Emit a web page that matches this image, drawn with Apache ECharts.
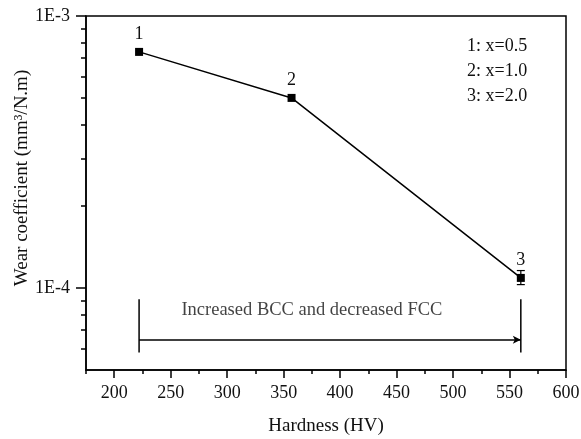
<!DOCTYPE html>
<html>
<head>
<meta charset="utf-8">
<script src="https://cdn.jsdelivr.net/npm/echarts@6/dist/echarts.min.js"></script>
<style>
  html, body { margin: 0; padding: 0; background: #fff; }
  #chart { width: 581px; height: 439px; }
</style>
</head>
<body>
<div id="chart"></div>
<script>
// data
var hardness = [222, 357, 560];
var wear = [7.38e-4, 5.0e-4, 1.09e-4];
var pointNames = ['1', '2', '3'];
var errBars = [[560, 1.03e-4, 1.16e-4]];   // [x, low, high]
var compositions = ['1: x=0.5', '2: x=1.0', '3: x=2.0'];

var xMajorTicks = [200, 250, 300, 350, 400, 450, 500, 550, 600];
var xMinorTicks = [175, 225, 275, 325, 375, 425, 475, 525, 575];
var yMajorTicks = [1e-4, 1e-3];
var yMajorLabels = ['1E-4', '1E-3'];
var yMinorTicks = [6e-5, 7e-5, 8e-5, 9e-5, 2e-4, 3e-4, 4e-4, 5e-4, 6e-4, 7e-4, 8e-4, 9e-4];

// annotation bracket
var bracketLeft = [[222, 9.1e-5], [222, 5.8e-5]];
var bracketRight = [[560, 9.1e-5], [560, 5.8e-5]];
var arrowFrom = [222, 6.46e-5];
var arrowTo = [560, 6.46e-5];
var noteText = 'Increased BCC and decreased FCC';
var notePos = [375, 8.3e-5];

var font = 'Liberation Serif';
var ink = '#111';

var chart = echarts.init(document.getElementById('chart'));

var baseX = { type: 'value', min: 175, max: 600, position: 'bottom', splitLine: { show: false } };
var baseY = { type: 'log', logBase: 10, min: 5e-5, max: 1e-3, position: 'left', splitLine: { show: false } };

option = {
    animation: false,
    grid: {
        left: 86, top: 16, right: 15, bottom: 69,
        outerBoundsMode: 'none',
        show: true, borderColor: '#000', borderWidth: 1.5
    },
    xAxis: [
        Object.assign({}, baseX, {
            name: 'Hardness (HV)',
            nameLocation: 'middle',
            nameGap: 47,
            nameTextStyle: { fontFamily: font, fontSize: 19, color: ink },
            axisLine: { lineStyle: { color: '#000', width: 1.5 } },
            axisTick: { customValues: xMajorTicks, length: 8, lineStyle: { color: '#000', width: 1.5 } },
            axisLabel: { customValues: xMajorTicks, fontFamily: font, fontSize: 18, color: ink, margin: 14 }
        }),
        Object.assign({}, baseX, {
            axisLine: { show: false },
            axisTick: { customValues: xMinorTicks, length: 4, lineStyle: { color: '#000', width: 1.5 } },
            axisLabel: { show: false }
        })
    ],
    yAxis: [
        Object.assign({}, baseY, {
            axisLine: { lineStyle: { color: '#000', width: 1.5 } },
            axisTick: { customValues: yMajorTicks, length: 10, lineStyle: { color: '#000', width: 1.5 } },
            axisLabel: {
                customValues: yMajorTicks, fontFamily: font, fontSize: 18, color: ink, margin: 16,
                formatter: function (v, i) { return yMajorLabels[yMajorTicks.indexOf(v)] || yMajorLabels[i]; }
            }
        }),
        Object.assign({}, baseY, {
            axisLine: { show: false },
            axisTick: { customValues: yMinorTicks, length: 5, lineStyle: { color: '#000', width: 1.5 } },
            axisLabel: { show: false }
        })
    ],
    series: [
        {
            type: 'line',
            data: hardness.map(function (x, i) { return [x, wear[i]]; }),
            symbol: 'rect',
            symbolSize: 8,
            lineStyle: { color: '#000', width: 1.5 },
            itemStyle: { color: '#000' },
            label: {
                show: true, position: 'top', distance: 5,
                fontFamily: font, fontSize: 18, color: ink,
                formatter: function (p) { return pointNames[p.dataIndex]; }
            },
            z: 3
        },
        {
            type: 'custom',
            data: errBars,
            renderItem: function (params, api) {
                var x = api.value(0);
                var lo = api.coord([x, api.value(1)]);
                var hi = api.coord([x, api.value(2)]);
                var s = { stroke: '#000', lineWidth: 1.2 };
                return {
                    type: 'group',
                    children: [
                        { type: 'line', shape: { x1: lo[0], y1: lo[1], x2: hi[0], y2: hi[1] }, style: s },
                        { type: 'line', shape: { x1: lo[0] - 4, y1: lo[1], x2: lo[0] + 4, y2: lo[1] }, style: s },
                        { type: 'line', shape: { x1: hi[0] - 4, y1: hi[1], x2: hi[0] + 4, y2: hi[1] }, style: s }
                    ]
                };
            },
            z: 2
        },
        {
            type: 'line',
            data: bracketLeft,
            symbol: 'none',
            lineStyle: { color: '#000', width: 1.5 },
            markLine: {
                silent: true,
                symbol: ['none', 'arrow'],
                symbolSize: [6, 8],
                label: { show: false },
                lineStyle: { color: '#000', width: 1.5, type: 'solid' },
                data: [[{ coord: arrowFrom }, { coord: arrowTo }]]
            }
        },
        {
            type: 'line',
            data: bracketRight,
            symbol: 'none',
            lineStyle: { color: '#000', width: 1.5 }
        },
        {
            type: 'scatter',
            data: [notePos],
            symbolSize: 0,
            label: {
                show: true, position: 'inside',
                fontFamily: font, fontSize: 18.5, color: ink,
                formatter: noteText
            }
        }
    ],
    graphic: compositions.map(function (t, i) {
        return {
            type: 'text', left: 467, top: 37 + i * 25,
            style: { text: t, font: '18px "' + font + '"', fill: ink }
        };
    }).concat([{
        // y axis title
        type: 'text', x: 22, y: 178, rotation: Math.PI / 2,
        style: {
            text: 'Wear coefficient (mm³/N.m)', font: '19px "' + font + '"', fill: ink,
            align: 'center', verticalAlign: 'middle'
        }
    }])
};

chart.setOption(option);
window.addEventListener('resize', chart.resize);
</script>
</body>
</html>
